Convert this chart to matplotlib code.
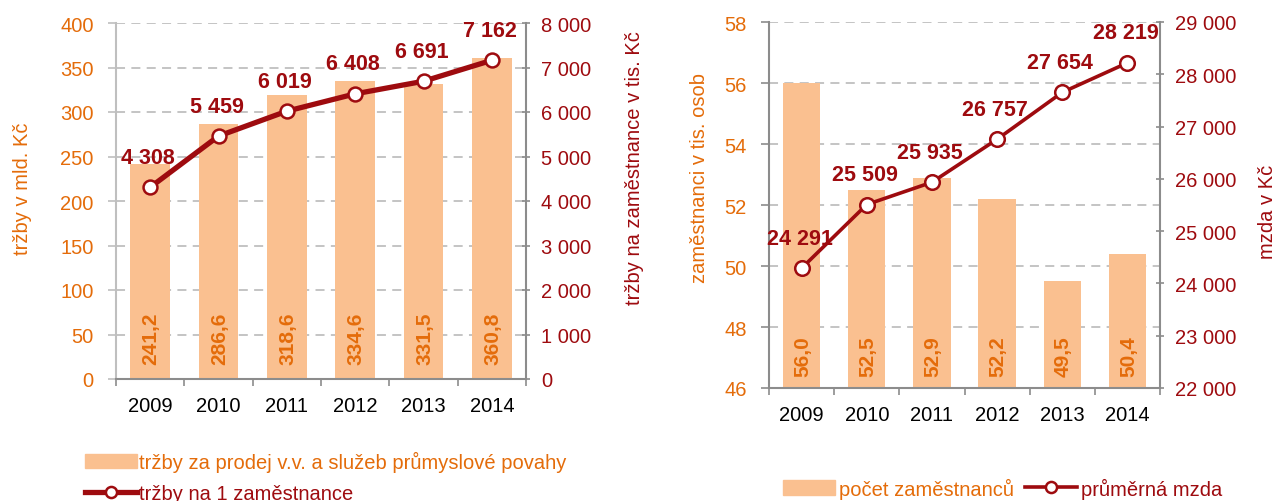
import matplotlib
matplotlib.use("Agg")
import matplotlib.pyplot as plt
from matplotlib.ticker import FuncFormatter, FixedLocator
from matplotlib.lines import Line2D
from matplotlib.patches import Patch

plt.rcParams['font.family'] = ['Liberation Sans', 'DejaVu Sans']

# data
years = ['2009', '2010', '2011', '2012', '2013', '2014']
trzby = [241.2, 286.6, 318.6, 334.6, 331.5, 360.8]          # mld. Kč
trzby_na_zam = [4308, 5459, 6019, 6408, 6691, 7162]          # tis. Kč
zamestnanci = [56.0, 52.5, 52.9, 52.2, 49.5, 50.4]           # tis. osob
mzda = [24291, 25509, 25935, 26757, 27654, 28219]            # Kč

ORANGE = '#E46C0A'
BAR = '#FAC090'
RED = '#9E0B0F'
GRID = '#BFBFBF'
SPINE = '#8C8C8C'
FS = 14.5

W, H = 1277, 502
fig = plt.figure(figsize=(W / 100, H / 100), dpi=100)


def px_axes(x0, x1, top, bottom):
    return fig.add_axes([x0 / W, (H - bottom) / H, (x1 - x0) / W, (bottom - top) / H])


def space_thousands(v, pos=None):
    return f"{int(round(v)):,}".replace(",", " ")


def comma_dec(v):
    return f"{v:.1f}".replace(".", ",")


def style_chart(ax, ax2, left_spine_color):
    x = range(len(years))
    ax.set_xlim(-0.5, len(years) - 0.5)
    ax.set_xticks(list(x))
    ax.set_xticklabels(years, fontsize=FS, color='black')
    ax.xaxis.set_minor_locator(FixedLocator([i - 0.5 for i in range(len(years) + 1)]))
    ax.tick_params(axis='x', which='major', length=0, pad=12)
    ax.tick_params(axis='x', which='minor', length=5, color=SPINE, width=1.2)
    ax.tick_params(axis='y', colors=ORANGE, labelsize=FS, length=6, width=1.2, pad=10)
    ax.tick_params(axis='y', color=left_spine_color)
    ax.yaxis.grid(True, color=GRID, linestyle=(0, (5, 3.5)), linewidth=1.3)
    ax.set_axisbelow(True)
    for s in ['top', 'right']:
        ax.spines[s].set_visible(False)
    ax.spines['left'].set_color(left_spine_color)
    ax.spines['bottom'].set_color(SPINE)
    ax.spines['left'].set_linewidth(1.5)
    ax.spines['bottom'].set_linewidth(1.5)

    ax2.tick_params(axis='y', colors=RED, labelsize=FS, length=6, width=1.2,
                    direction='inout', pad=8)
    ax2.tick_params(axis='y', color=SPINE)
    for s in ['top', 'left', 'bottom']:
        ax2.spines[s].set_visible(False)
    ax2.spines['right'].set_color(SPINE)
    ax2.spines['right'].set_linewidth(1.5)
    ax2.yaxis.set_major_formatter(FuncFormatter(space_thousands))


# ---------- left chart ----------
ax = px_axes(116, 526, 24, 380)
ax2 = ax.twinx()
x = list(range(len(years)))
ax.bar(x, trzby, width=0.585, color=BAR, zorder=2)
ax.set_ylim(0, 400)
ax.set_yticks(range(0, 401, 50))
ax2.set_ylim(0, 8000)
ax2.set_yticks(range(0, 8001, 1000))
style_chart(ax, ax2, GRID)
for i, v in enumerate(trzby):
    ax.annotate(comma_dec(v), (i, 0), xytext=(1, 15), textcoords='offset pixels',
                rotation=90, ha='center', va='bottom', color=ORANGE,
                fontsize=15, fontweight='bold')
ax2.plot(x, trzby_na_zam, color=RED, linewidth=3.8, marker='o', markersize=10,
         markerfacecolor='white', markeredgecolor=RED, markeredgewidth=1.8, zorder=5)
for i, v in enumerate(trzby_na_zam):
    ax2.annotate(space_thousands(v), (i, v), xytext=(-2, 30), textcoords='offset pixels',
                 ha='center', va='center', color=RED, fontsize=15.5, fontweight='bold')
ax.set_ylabel('tržby v mld. Kč', color=ORANGE, fontsize=FS)
ax.yaxis.set_label_coords(-84 / 410, (380 - 189) / 356)
ax2.set_ylabel('tržby na zaměstnance v tis. Kč', color=RED, fontsize=FS, rotation=90)
ax2.yaxis.set_label_coords(1 + 99 / 410, (380 - 168) / 356)

fig.legend(handles=[Patch(color=BAR, label='tržby za prodej v.v. a služeb průmyslové povahy'),
                    Line2D([], [], color=RED, linewidth=3.8, marker='o', markersize=8,
                           markerfacecolor='white', markeredgecolor=RED,
                           markeredgewidth=1.8, label='tržby na 1 zaměstnance')],
           loc='upper left', bbox_to_anchor=(77 / W, 1 - 444 / H), frameon=False,
           fontsize=FS, handlelength=2.6, handletextpad=0.1, labelspacing=0.6,
           labelcolor=[ORANGE, RED], borderaxespad=0)

# ---------- right chart ----------
bx = px_axes(769, 1160, 23, 389)
bx2 = bx.twinx()
bx.bar(x, zamestnanci, width=0.575, color=BAR, zorder=2)
bx.set_ylim(46, 58)
bx.set_yticks(range(46, 59, 2))
bx2.set_ylim(22000, 29000)
bx2.set_yticks(range(22000, 29001, 1000))
style_chart(bx, bx2, SPINE)
for i, v in enumerate(zamestnanci):
    bx.annotate(comma_dec(v), (i, 46), xytext=(1, 12), textcoords='offset pixels',
                rotation=90, ha='center', va='bottom', color=ORANGE,
                fontsize=15, fontweight='bold')
bx2.plot(x, mzda, color=RED, linewidth=2.6, marker='o', markersize=10.5,
         markerfacecolor='white', markeredgecolor=RED, markeredgewidth=1.8, zorder=5)
for i, v in enumerate(mzda):
    bx2.annotate(space_thousands(v), (i, v), xytext=(-2, 30), textcoords='offset pixels',
                 ha='center', va='center', color=RED, fontsize=15.5, fontweight='bold')
bx.set_ylabel('zaměstnanci v tis. osob', color=ORANGE, fontsize=FS)
bx.yaxis.set_label_coords(-60 / 391, (389 - 178) / 366)
bx2.set_ylabel('mzda v Kč', color=RED, fontsize=FS, rotation=90)
bx2.yaxis.set_label_coords(1 + 98 / 391, (389 - 212) / 366)

fig.legend(handles=[Patch(color=BAR, label='počet zaměstnanců'),
                    Line2D([], [], color=RED, linewidth=2.6, marker='o', markersize=8,
                           markerfacecolor='white', markeredgecolor=RED,
                           markeredgewidth=1.8, label='průměrná mzda')],
           loc='center left', bbox_to_anchor=(775 / W, 1 - 489 / H), frameon=False,
           fontsize=FS, handlelength=2.6, handletextpad=0.2, columnspacing=0.5,
           ncol=2, labelcolor=[ORANGE, RED], borderaxespad=0)

fig.savefig('out.png', dpi=100)
